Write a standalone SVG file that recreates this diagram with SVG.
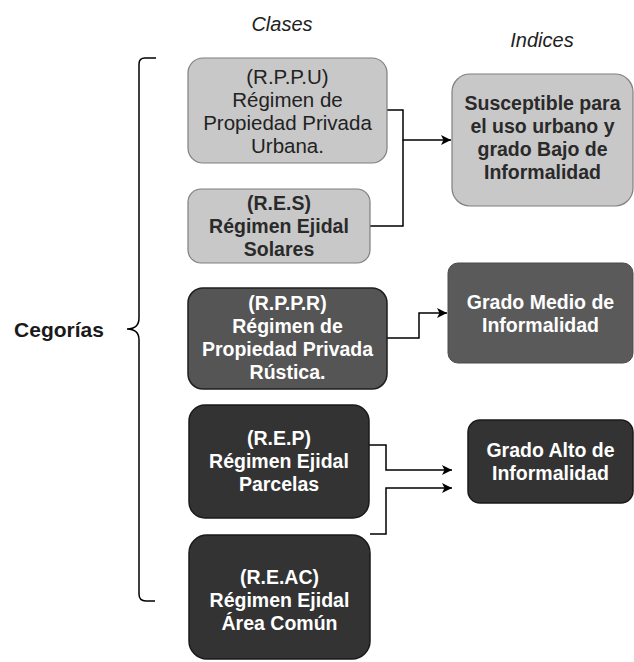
<svg xmlns="http://www.w3.org/2000/svg" width="634" height="662" viewBox="0 0 634 662">
<defs>
<marker id="ah" viewBox="0 0 10 10" refX="10" refY="5" markerWidth="10" markerHeight="10" markerUnits="userSpaceOnUse" orient="auto">
<path d="M0,0 L10,5 L0,10 L2.5,5 Z" fill="#000"/>
</marker>
</defs>
<style>
text{font-family:"Liberation Sans",Arial,sans-serif;text-anchor:middle}
.light{fill:#c8c8c8;stroke:#7f7f7f;stroke-width:1.2}
.mid{fill:#555555;stroke:#1e1e1e;stroke-width:1.5}
.mid2{fill:#5a5a5a;stroke:#4a4a4a;stroke-width:1}
.dark{fill:#333333;stroke:#1a1a1a;stroke-width:1.5}
.tl{font-size:20.5px;fill:#222}
.tlb{font-size:19.5px;font-weight:bold;fill:#2a2a2a}
.tw{font-size:19.5px;font-weight:bold;fill:#ffffff}
.hdr{font-size:20px;font-style:italic;fill:#222}
.conn{fill:none;stroke:#000;stroke-width:1.5}
</style>
<rect width="634" height="662" fill="#ffffff"/>
<g id="headers">
<text class="hdr" x="282" y="31">Clases</text>
<text class="hdr" x="542" y="47">Indices</text>
</g>
<g id="categorias">
<text x="59" y="337" style="font-size:21px;font-weight:bold;fill:#1a1a1a">Cegorías</text>
<path class="conn" d="M156,58 H145 Q139,58 139,64 V318 Q139,329 127,329 Q139,329 139,340 V594 Q139,601 146,601 H155"/>
</g>
<g id="connectors">
<path class="conn" d="M387,110 H403 V140 H451" marker-end="url(#ah)"/>
<path class="conn" d="M370,226 H403 V140"/>
<path class="conn" d="M387,338 H419 V313 H447" marker-end="url(#ah)"/>
<path class="conn" d="M369,445 H386 V470 H452" marker-end="url(#ah)"/>
<path class="conn" d="M370,534 H386 V488 H452" marker-end="url(#ah)"/>
</g>
<g id="rppu">
<rect class="light" x="188" y="58" width="199" height="105" rx="15"/>
<text class="tl" x="287.5" y="84">(R.P.P.U)</text>
<text class="tl" x="287.5" y="107">Régimen de</text>
<text class="tl" x="287.5" y="130">Propiedad Privada</text>
<text class="tl" x="287.5" y="153">Urbana.</text>
</g>
<g id="res">
<rect class="light" x="188" y="189" width="182" height="74" rx="13"/>
<text class="tlb" x="279" y="210">(R.E.S)</text>
<text class="tlb" x="279" y="233">Régimen Ejidal</text>
<text class="tlb" x="279" y="256">Solares</text>
</g>
<g id="susceptible">
<rect class="light" x="452" y="74" width="181" height="132" rx="18"/>
<text class="tlb" x="542.5" y="110">Susceptible para</text>
<text class="tlb" x="542.5" y="133">el uso urbano y</text>
<text class="tlb" x="542.5" y="156">grado Bajo de</text>
<text class="tlb" x="542.5" y="179">Informalidad</text>
</g>
<g id="rppr">
<rect class="mid" x="188" y="288" width="199" height="101" rx="15"/>
<text class="tw" x="287.5" y="310">(R.P.P.R)</text>
<text class="tw" x="287.5" y="333">Régimen de</text>
<text class="tw" x="287.5" y="356">Propiedad Privada</text>
<text class="tw" x="287.5" y="379">Rústica.</text>
</g>
<g id="grado-medio">
<rect class="mid2" x="448" y="263" width="185" height="100" rx="10"/>
<text class="tw" x="540.5" y="309">Grado Medio de</text>
<text class="tw" x="540.5" y="332">Informalidad</text>
</g>
<g id="rep">
<rect class="dark" x="189" y="405" width="180" height="113" rx="16"/>
<text class="tw" x="279" y="445">(R.E.P)</text>
<text class="tw" x="279" y="468">Régimen Ejidal</text>
<text class="tw" x="279" y="491">Parcelas</text>
</g>
<g id="reac">
<rect class="dark" x="189" y="535" width="181" height="124" rx="18"/>
<text class="tw" x="279.5" y="584">(R.E.AC)</text>
<text class="tw" x="279.5" y="607">Régimen Ejidal</text>
<text class="tw" x="279.5" y="630">Área Común</text>
</g>
<g id="grado-alto">
<rect class="dark" x="468" y="420" width="165" height="83" rx="12"/>
<text class="tw" x="550.5" y="457">Grado Alto de</text>
<text class="tw" x="550.5" y="480">Informalidad</text>
</g>
</svg>
